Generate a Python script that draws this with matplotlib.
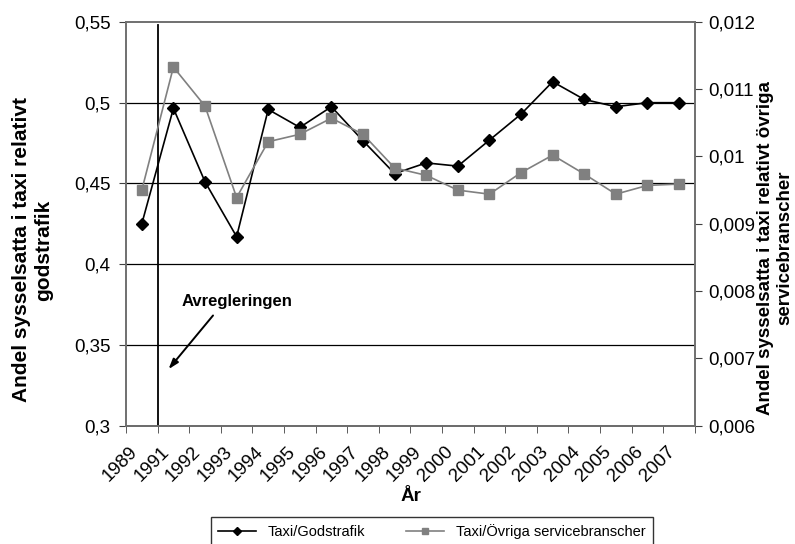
import matplotlib
matplotlib.use('Agg')
import matplotlib.pyplot as plt
from matplotlib.transforms import ScaledTranslation

plt.rcParams['font.family'] = ['Liberation Sans', 'DejaVu Sans']

# data
years = ['1989', '1991', '1992', '1993', '1994', '1995', '1996', '1997', '1998',
         '1999', '2000', '2001', '2002', '2003', '2004', '2005', '2006', '2007']
taxi_gods = [0.425, 0.4965, 0.451, 0.417, 0.4958, 0.4847, 0.4975, 0.4764, 0.4561,
             0.4627, 0.4607, 0.4768, 0.4929, 0.513, 0.502, 0.4975, 0.5, 0.5]
taxi_ovriga = [0.0095, 0.01133, 0.01075, 0.00939, 0.01022, 0.01033, 0.01057, 0.01033, 0.00983,
               0.00972, 0.0095, 0.00944, 0.00976, 0.01002, 0.00974, 0.00944, 0.00957, 0.00959]
left_ticks = [0.3, 0.35, 0.4, 0.45, 0.5, 0.55]
left_labels = ['0,3', '0,35', '0,4', '0,45', '0,5', '0,55']
right_ticks = [0.006, 0.007, 0.008, 0.009, 0.01, 0.011, 0.012]
right_labels = ['0,006', '0,007', '0,008', '0,009', '0,01', '0,011', '0,012']

x = list(range(len(years)))

fig = plt.figure(figsize=(7.95, 5.44), dpi=100)
ax = fig.add_axes([0.1585, 0.2178, 0.874 - 0.1585, 0.9596 - 0.2178])
ax2 = ax.twinx()

# gridlines at left ticks
for t in left_ticks[1:-1]:
    ax.axhline(t, color='black', lw=0.9, zorder=1)

l1, = ax.plot(x, taxi_gods, color='black', lw=1.2, marker='D', markersize=6.5,
              markerfacecolor='black', markeredgecolor='black', zorder=4, label='Taxi/Godstrafik')
l2, = ax2.plot(x, taxi_ovriga, color='#808080', lw=1.2, marker='s', markersize=6.5,
               markerfacecolor='#808080', markeredgecolor='#808080', zorder=3,
               label='Taxi/Övriga servicebranscher')

# Avregleringen marker + arrow
ax.axvline(0.5, ymin=0, ymax=0.993, color='black', lw=1.3, zorder=2)
ax.text(3.02, 0.377, 'Avregleringen', fontsize=12, fontweight='bold', ha='center', va='center')
ax.annotate('', xy=(0.79, 0.3336), xytext=(2.31, 0.3695),
            arrowprops=dict(arrowstyle='-|>,head_length=0.6,head_width=0.2', color='black', lw=1.4))

ax.set_xlim(-0.5, len(years) - 0.5)
ax.set_ylim(0.3, 0.55)
ax2.set_ylim(0.006, 0.012)

ax.set_yticks(left_ticks)
ax.set_yticklabels(left_labels, fontsize=13.5)
ax2.set_yticks(right_ticks)
ax2.set_yticklabels(right_labels, fontsize=13.5)

ax.set_xticks(x)
ax.set_xticklabels(years, rotation=45, ha='right', fontsize=13.5)
ax.set_xticks([i + 0.5 for i in range(-1, len(years))], minor=True)
ax.tick_params(axis='x', which='major', length=0, pad=13)
ax.tick_params(axis='x', which='minor', length=5, color='#404040')
ax.tick_params(axis='y', length=5, pad=6, color='#404040')
ax2.tick_params(axis='y', length=5, pad=5, color='#404040')
off = ScaledTranslation(-1 / 100, 0, fig.dpi_scale_trans)
for lab in ax.get_xticklabels():
    lab.set_transform(lab.get_transform() + off)

for a in (ax, ax2):
    for s in a.spines.values():
        s.set_color('#707070')
        s.set_linewidth(1.2)
ax.spines['bottom'].set_color('#404040')

ax.set_xlabel('År', fontsize=13.5, fontweight='bold', labelpad=2)

fig.text(32.5 / 795, 1 - 250 / 544, 'Andel sysselsatta i taxi relativt\ngodstrafik', rotation=90,
         fontsize=15, fontweight='bold', ha='center', va='center', multialignment='center')
fig.text(775 / 795, 1 - 248 / 544, 'Andel sysselsatta i taxi relativt övriga\nservicebranscher', rotation=90,
         fontsize=13.5, fontweight='bold', ha='center', va='center', multialignment='center')

leg = fig.legend(handles=[l1, l2], loc='upper center', bbox_to_anchor=(432 / 795, 1 - 517 / 544),
                 ncol=2, fontsize=10.5, frameon=True, fancybox=False, edgecolor='black',
                 handlelength=2.6, columnspacing=2.8, markerscale=0.7, borderpad=0.5,
                 borderaxespad=0)
leg.get_frame().set_linewidth(1.0)

fig.savefig('out.png', dpi=100)
